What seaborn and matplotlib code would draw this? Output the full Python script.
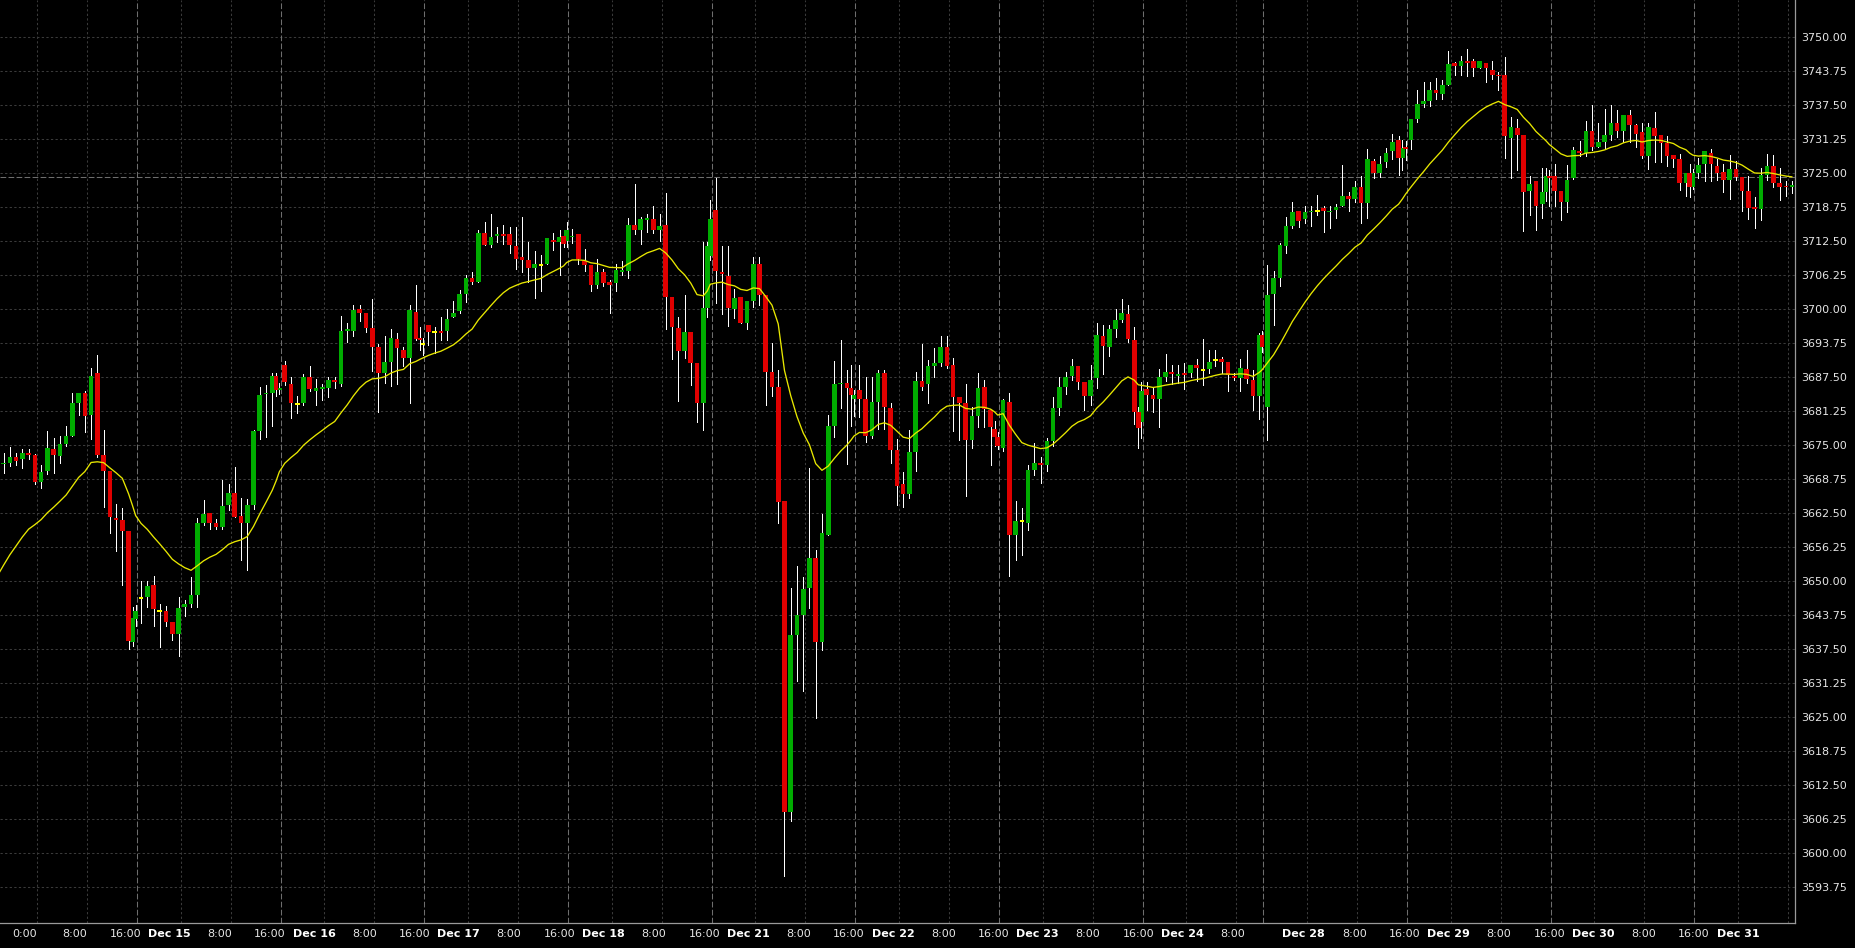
import numpy as np
import pandas as pd
import matplotlib
matplotlib.use("Agg")
import matplotlib.pyplot as plt
import seaborn as sns

# ---------------- data: hourly candles (open, high, low, close) ----------------
session_names = ["Dec 14", "Dec 15", "Dec 16", "Dec 17", "Dec 18", "Dec 21", "Dec 22",
                 "Dec 23", "Dec 24", "Dec 28", "Dec 29", "Dec 30", "Dec 31"]
session_hours = [23, 23, 23, 23, 23, 23, 23, 23, 19.3, 23, 23, 23, 23]
session_first_bar = [1, 0, 0, 0, 0, 0, 0, 0, 0, 0, 0, 0, 0]
session_short_bars = [2, 2, 2, 2, 2, 2, 2, 2, 1, 2, 2, 2, 0]

dec14 = [(3671.5, 3673.5, 3670.0, 3671.8), (3671.8, 3674.6, 3671.2, 3672.9), (3672.9, 3673.6, 3671.4, 3672.2),
         (3672.4, 3674.3, 3670.9, 3673.6), (3673.5, 3674.3, 3672.4, 3673.2), (3673.2, 3673.4, 3667.9, 3668.3),
         (3668.3, 3671.3, 3667.2, 3670.1), (3670.3, 3677.6, 3669.7, 3674.5), (3674.3, 3676.3, 3670.0, 3673.3),
         (3673.1, 3676.7, 3671.7, 3675.2), (3675.3, 3678.6, 3674.8, 3676.7), (3676.7, 3684.7, 3676.7, 3682.7),
         (3682.8, 3684.6, 3680.5, 3684.6), (3684.6, 3684.9, 3677.5, 3680.4), (3680.6, 3689.2, 3676.2, 3687.7),
         (3688.2, 3691.6, 3672.9, 3673.2), (3673.2, 3677.8, 3663.7, 3670.3), (3670.3, 3670.3, 3658.8, 3661.8),
         (3661.6, 3664.3, 3655.5, 3661.3), (3661.3, 3663.4, 3649.3, 3659.3), (3659.3, 3659.3, 3637.5, 3639.1),
         (3638.9, 3645.3, 3638.1, 3643.3), (3643.0, 3645.7, 3641.8, 3644.6)]
dec15 = [(3647.0, 3650.1, 3642.3, 3647.0), (3647.2, 3650.1, 3645.3, 3649.1), (3649.3, 3651.0, 3641.8, 3644.9),
         (3644.6, 3645.9, 3638.0, 3644.6), (3644.5, 3645.5, 3641.8, 3642.6), (3642.6, 3642.6, 3639.3, 3640.3),
         (3640.4, 3647.2, 3636.3, 3645.1), (3645.3, 3646.5, 3643.6, 3645.8), (3645.8, 3650.7, 3645.3, 3647.5),
         (3647.5, 3661.6, 3645.3, 3660.8), (3660.8, 3665.0, 3660.4, 3662.3), (3662.5, 3662.5, 3659.7, 3660.8),
         (3660.8, 3661.5, 3659.7, 3659.9), (3660.0, 3668.6, 3659.7, 3663.9), (3664.1, 3667.9, 3663.1, 3666.2),
         (3666.2, 3671.1, 3661.9, 3661.9), (3662.0, 3665.3, 3654.0, 3660.8), (3660.8, 3665.1, 3652.1, 3664.1),
         (3664.1, 3677.9, 3663.2, 3677.7), (3677.7, 3685.8, 3676.2, 3684.3), (3684.4, 3686.0, 3676.5, 3684.7),
         (3684.7, 3688.2, 3678.5, 3687.7), (3687.7, 3688.2, 3684.0, 3685.2), (3685.2, 3686.5, 3684.5, 3685.6)]
dec16 = [(3689.8, 3690.5, 3686.0, 3686.7), (3686.3, 3687.6, 3680.0, 3682.8), (3682.6, 3684.1, 3681.0, 3682.6),
         (3682.8, 3688.1, 3682.4, 3687.5), (3687.5, 3689.6, 3684.9, 3685.4), (3685.0, 3687.1, 3682.4, 3685.5),
         (3685.4, 3686.3, 3683.3, 3685.7), (3685.6, 3687.6, 3683.8, 3687.0), (3687.0, 3687.6, 3685.5, 3686.6),
         (3686.3, 3698.8, 3685.9, 3696.0), (3696.0, 3697.4, 3693.9, 3696.4), (3696.1, 3700.8, 3695.1, 3699.9),
         (3700.1, 3700.8, 3697.9, 3699.3), (3699.3, 3699.3, 3695.9, 3696.6), (3696.6, 3701.9, 3688.6, 3693.1),
         (3693.1, 3693.7, 3681.2, 3688.2), (3688.2, 3695.1, 3686.4, 3690.3), (3690.3, 3696.4, 3685.9, 3694.8),
         (3694.5, 3695.7, 3686.2, 3692.9), (3692.5, 3693.1, 3689.5, 3691.1), (3691.1, 3700.7, 3682.8, 3699.9),
         (3699.5, 3704.5, 3694.4, 3694.5), (3694.7, 3696.8, 3692.5, 3694.4), (3693.6, 3694.7, 3691.6, 3693.6)]
dec17 = [(3697.1, 3697.1, 3693.4, 3695.9), (3695.9, 3696.8, 3692.0, 3695.9), (3696.0, 3698.6, 3694.4, 3695.7),
         (3696.1, 3700.0, 3694.4, 3698.2), (3698.6, 3701.5, 3698.6, 3699.3), (3699.6, 3703.5, 3699.3, 3702.9),
         (3702.9, 3706.3, 3701.4, 3705.7), (3705.7, 3706.9, 3704.6, 3705.1), (3705.1, 3714.6, 3705.1, 3714.0),
         (3714.0, 3716.1, 3711.9, 3711.9), (3711.9, 3717.5, 3711.4, 3713.2), (3713.4, 3715.2, 3712.4, 3713.9),
         (3713.9, 3715.5, 3712.0, 3713.5), (3713.8, 3715.2, 3710.4, 3711.8), (3711.6, 3715.2, 3707.4, 3709.2),
         (3709.6, 3717.0, 3706.9, 3709.1), (3709.1, 3712.4, 3705.1, 3707.6), (3707.6, 3710.8, 3702.0, 3708.3),
         (3708.2, 3710.0, 3703.4, 3708.2), (3708.3, 3713.1, 3708.3, 3713.1), (3712.7, 3714.0, 3710.9, 3712.4),
         (3712.4, 3714.5, 3706.3, 3713.2), (3713.4, 3714.0, 3711.5, 3712.0), (3712.6, 3716.1, 3711.5, 3714.6)]
dec18 = [(3713.2, 3714.7, 3712.2, 3713.5), (3713.8, 3713.8, 3708.4, 3709.2), (3708.9, 3711.0, 3707.1, 3708.1),
         (3708.1, 3708.1, 3703.4, 3704.4), (3704.4, 3709.2, 3704.0, 3706.9), (3706.9, 3707.5, 3704.3, 3704.8),
         (3705.0, 3705.4, 3699.3, 3704.5), (3704.8, 3708.3, 3703.4, 3707.2), (3706.9, 3708.9, 3706.3, 3707.3),
         (3707.1, 3716.8, 3705.7, 3715.5), (3715.5, 3723.0, 3713.8, 3714.6), (3714.6, 3717.0, 3712.0, 3716.6),
         (3716.4, 3717.6, 3714.3, 3716.7), (3716.6, 3719.0, 3714.0, 3714.5), (3714.6, 3717.5, 3712.6, 3715.3),
         (3715.5, 3721.4, 3696.3, 3702.3), (3702.3, 3702.3, 3690.8, 3696.8), (3696.6, 3698.6, 3683.2, 3692.3),
         (3692.3, 3702.6, 3691.0, 3695.8), (3695.8, 3695.8, 3686.1, 3690.2), (3690.2, 3690.2, 3679.2, 3682.7),
         (3682.7, 3712.4, 3677.8, 3700.3), (3700.3, 3712.4, 3698.6, 3711.6), (3709.8, 3720.1, 3709.1, 3716.6)]
dec21 = [(3718.3, 3724.1, 3701.1, 3707.1), (3706.9, 3711.6, 3699.1, 3706.4), (3706.1, 3711.6, 3697.0, 3700.3),
         (3700.1, 3703.7, 3698.4, 3702.1), (3702.2, 3702.2, 3697.4, 3697.5), (3697.5, 3701.5, 3696.4, 3701.5),
         (3701.6, 3709.6, 3700.5, 3708.4), (3708.4, 3709.6, 3700.8, 3702.6), (3702.6, 3702.6, 3682.5, 3688.5),
         (3688.5, 3693.8, 3684.0, 3685.7), (3685.7, 3688.8, 3660.8, 3664.5), (3664.8, 3664.8, 3595.8, 3607.6),
         (3607.6, 3648.7, 3605.9, 3640.1), (3640.1, 3652.8, 3631.7, 3643.8), (3643.8, 3650.8, 3629.9, 3648.6),
         (3648.7, 3670.8, 3645.1, 3654.3), (3654.3, 3655.7, 3624.9, 3638.8), (3638.8, 3662.4, 3637.4, 3658.8),
         (3658.6, 3680.5, 3658.6, 3678.5), (3678.5, 3690.5, 3676.5, 3686.3), (3686.2, 3694.3, 3681.9, 3686.5),
         (3686.5, 3688.9, 3671.6, 3685.6), (3685.6, 3689.8, 3678.6, 3684.2), (3683.6, 3685.1, 3680.4, 3684.2)]
dec22 = [(3685.1, 3689.8, 3680.2, 3683.6), (3683.5, 3687.6, 3675.6, 3676.8), (3676.8, 3687.6, 3676.4, 3682.9),
         (3682.9, 3688.9, 3678.0, 3688.2), (3688.2, 3688.9, 3678.0, 3682.1), (3681.9, 3682.8, 3671.8, 3674.2),
         (3674.2, 3676.1, 3664.1, 3667.5), (3667.9, 3670.1, 3663.7, 3666.0), (3666.0, 3677.8, 3665.4, 3673.7),
         (3673.7, 3688.5, 3670.2, 3686.8), (3686.8, 3693.6, 3685.2, 3685.7), (3686.2, 3690.6, 3682.8, 3689.6),
         (3689.6, 3692.8, 3687.6, 3690.1), (3690.2, 3695.1, 3689.5, 3693.0), (3693.0, 3695.1, 3689.3, 3689.6),
         (3689.8, 3691.0, 3677.7, 3683.9), (3683.9, 3683.9, 3675.9, 3682.8), (3682.8, 3686.3, 3665.7, 3675.9),
         (3675.9, 3682.1, 3674.5, 3680.4), (3680.4, 3688.3, 3678.3, 3685.6), (3685.7, 3687.0, 3678.4, 3681.6),
         (3681.4, 3681.4, 3671.4, 3678.4), (3678.0, 3679.4, 3674.8, 3676.5), (3676.5, 3677.5, 3674.3, 3674.9)]
dec23 = [(3674.5, 3683.5, 3674.0, 3683.3), (3683.0, 3684.7, 3650.9, 3658.5), (3658.5, 3664.8, 3653.9, 3661.1),
         (3661.0, 3663.5, 3654.8, 3661.0), (3660.8, 3671.4, 3659.4, 3670.5), (3670.5, 3675.5, 3669.5, 3671.8),
         (3671.8, 3672.9, 3668.1, 3671.4), (3671.4, 3676.3, 3670.3, 3675.8), (3675.8, 3683.8, 3674.8, 3681.9),
         (3681.9, 3687.6, 3680.6, 3685.8), (3685.8, 3688.5, 3684.4, 3687.6), (3687.7, 3690.9, 3687.0, 3689.6),
         (3689.6, 3689.6, 3685.4, 3686.7), (3686.7, 3686.7, 3681.4, 3684.1), (3684.1, 3689.8, 3682.4, 3687.0),
         (3687.4, 3697.4, 3685.6, 3695.3), (3695.1, 3697.1, 3688.1, 3693.3), (3693.1, 3697.1, 3691.4, 3696.3),
         (3696.4, 3700.0, 3695.0, 3698.0), (3698.0, 3701.9, 3697.7, 3699.4), (3699.1, 3700.8, 3693.9, 3694.6),
         (3694.4, 3696.7, 3679.0, 3681.2), (3681.2, 3682.1, 3674.5, 3678.1), (3679.2, 3686.7, 3676.4, 3685.0)]
dec24 = [(3685.3, 3686.7, 3681.4, 3684.3), (3684.3, 3685.8, 3681.2, 3683.5), (3683.5, 3689.0, 3678.4, 3687.5),
         (3687.5, 3691.8, 3686.8, 3688.4), (3688.5, 3689.8, 3686.3, 3688.1), (3687.8, 3689.8, 3686.4, 3688.1),
         (3688.2, 3690.2, 3685.4, 3687.9), (3688.2, 3689.8, 3687.5, 3689.8), (3689.8, 3690.9, 3686.9, 3689.3),
         (3688.8, 3694.5, 3686.1, 3688.8), (3689.0, 3692.5, 3688.2, 3690.4), (3690.7, 3692.5, 3689.6, 3690.7),
         (3690.8, 3691.2, 3688.2, 3690.4), (3690.4, 3690.4, 3684.9, 3688.0), (3687.7, 3688.2, 3687.0, 3687.4),
         (3687.4, 3690.8, 3684.9, 3689.2), (3689.0, 3692.5, 3686.5, 3687.1), (3687.0, 3688.8, 3681.4, 3684.1),
         (3684.1, 3695.6, 3679.8, 3695.3), (3695.3, 3696.0, 3692.2, 3693.0)]
dec28 = [(3682.1, 3708.1, 3676.0, 3702.6), (3702.8, 3707.0, 3697.1, 3705.8), (3705.8, 3712.1, 3704.3, 3711.8),
         (3711.7, 3717.0, 3710.4, 3715.3), (3715.3, 3719.7, 3714.9, 3717.9), (3718.1, 3718.1, 3715.2, 3716.3),
         (3716.6, 3719.0, 3715.8, 3717.9), (3717.8, 3719.0, 3715.3, 3718.1), (3718.1, 3721.0, 3717.3, 3718.1),
         (3718.6, 3719.0, 3714.3, 3718.0), (3717.8, 3719.0, 3715.0, 3718.1), (3718.3, 3719.3, 3716.7, 3718.8),
         (3718.9, 3726.5, 3718.9, 3720.8), (3720.8, 3721.6, 3718.1, 3720.3), (3720.3, 3723.5, 3719.7, 3722.4),
         (3722.4, 3724.5, 3715.9, 3719.6), (3719.6, 3729.5, 3716.8, 3727.6), (3727.3, 3727.7, 3724.1, 3725.1),
         (3725.0, 3728.1, 3724.4, 3726.8), (3727.0, 3729.6, 3726.2, 3728.7), (3729.1, 3732.2, 3727.7, 3730.8),
         (3731.1, 3731.9, 3724.7, 3727.9), (3727.9, 3731.1, 3725.6, 3729.6), (3729.9, 3731.0, 3727.5, 3729.5)]
dec29 = [(3731.1, 3735.0, 3729.5, 3735.0), (3735.0, 3740.4, 3734.5, 3737.7), (3737.7, 3741.7, 3737.1, 3738.2),
         (3738.3, 3741.7, 3737.4, 3740.4), (3740.3, 3742.5, 3738.7, 3739.8), (3739.6, 3742.1, 3738.7, 3741.2),
         (3741.2, 3747.4, 3741.2, 3745.1), (3745.2, 3745.4, 3743.1, 3744.8), (3744.8, 3746.6, 3743.1, 3745.6),
         (3745.6, 3747.8, 3742.9, 3745.3), (3745.6, 3746.0, 3742.8, 3744.4), (3744.4, 3745.7, 3744.4, 3745.6),
         (3745.3, 3745.3, 3741.7, 3744.4), (3744.0, 3745.7, 3742.3, 3743.1), (3743.1, 3743.7, 3740.3, 3742.8),
         (3743.1, 3746.3, 3727.9, 3731.9), (3731.5, 3735.3, 3724.2, 3733.5), (3733.3, 3734.9, 3725.6, 3732.1),
         (3732.0, 3732.0, 3714.4, 3721.6), (3721.7, 3724.5, 3717.3, 3723.1), (3723.6, 3723.6, 3714.6, 3719.0),
         (3719.4, 3726.0, 3716.7, 3721.5), (3721.5, 3725.9, 3720.0, 3724.5), (3724.5, 3725.6, 3718.9, 3724.2)]
dec30 = [(3724.5, 3726.8, 3718.9, 3721.8), (3721.8, 3721.8, 3716.4, 3719.8), (3719.8, 3726.5, 3717.9, 3723.8),
         (3724.2, 3729.9, 3724.0, 3729.3), (3729.1, 3731.0, 3728.2, 3728.8), (3728.8, 3734.7, 3728.2, 3732.8),
         (3732.8, 3737.6, 3729.3, 3729.9), (3729.9, 3734.2, 3729.9, 3730.8), (3730.8, 3736.8, 3729.6, 3732.0),
         (3732.0, 3737.5, 3731.1, 3734.3), (3734.3, 3736.6, 3731.7, 3732.8), (3732.8, 3735.7, 3730.8, 3735.7),
         (3735.7, 3736.6, 3730.8, 3733.9), (3733.9, 3734.1, 3729.9, 3732.2), (3732.6, 3734.2, 3727.8, 3728.1),
         (3728.1, 3734.3, 3725.7, 3733.6), (3733.4, 3736.3, 3727.1, 3731.9), (3732.0, 3732.0, 3727.0, 3730.5),
         (3730.5, 3731.9, 3726.4, 3728.1), (3728.4, 3728.4, 3726.2, 3727.7), (3727.6, 3728.5, 3721.9, 3723.3),
         (3723.3, 3725.0, 3720.8, 3725.0), (3725.0, 3726.8, 3720.7, 3722.5), (3722.5, 3725.7, 3722.2, 3725.0)]
dec31 = [(3725.1, 3727.8, 3724.2, 3726.5), (3726.7, 3729.1, 3723.5, 3729.1), (3728.7, 3729.5, 3723.5, 3726.7),
         (3726.4, 3727.6, 3723.8, 3725.1), (3725.2, 3726.8, 3721.5, 3723.8), (3723.8, 3728.4, 3720.2, 3725.7),
         (3725.7, 3727.3, 3723.8, 3724.4), (3724.4, 3724.4, 3718.0, 3721.8), (3721.8, 3724.5, 3716.6, 3718.7),
         (3718.8, 3720.7, 3715.0, 3718.4), (3718.4, 3725.9, 3716.5, 3724.6), (3724.6, 3728.6, 3723.8, 3726.4),
         (3726.4, 3728.4, 3722.4, 3723.2), (3723.2, 3725.9, 3720.1, 3722.4), (3722.6, 3723.5, 3720.8, 3722.4),
         (3722.4, 3723.5, 3721.3, 3722.9)]
session_bars = [dec14, dec15, dec16, dec17, dec18, dec21, dec22, dec23, dec24, dec28, dec29, dec30, dec31]

ema_seed = 3651.0      # value of the yellow average just before the first visible candle
ema_span = 20
price_line = 3724.3    # dashed horizontal line
price_ticks = np.arange(3593.75, 3750.01, 6.25)

# ---------------- build the bar-time axis (hours, with session gaps removed) ----------------
xs, rows = [], []
session_start = np.concatenate([[0.0], np.cumsum(session_hours)[:-1]])
for s0, hrs, k0, nshort, bars in zip(session_start, session_hours, session_first_bar,
                                     session_short_bars, session_bars):
    nreg = len(bars) - nshort
    pos = [s0 + 0.65 + k for k in range(k0, k0 + nreg)]
    pos += [s0 + hrs - e for e in [0.72, 0.22][2 - nshort:]] if nshort else []
    xs += pos
    rows += bars
df = pd.DataFrame(rows, columns=["open", "high", "low", "close"])
df["x"] = xs
df["high"] = df[["open", "high", "close"]].max(axis=1)
df["low"] = df[["open", "low", "close"]].min(axis=1)

ema = pd.Series([ema_seed] + df["close"].tolist()).ewm(span=ema_span, adjust=False).mean()
ema_x = [session_start[0] + 0.65] + df["x"].tolist()
ema_df = pd.DataFrame({"x": ema_x, "ema": ema.values})

# ---------------- styling ----------------
sns.set_theme(style="dark", rc={"axes.facecolor": "black", "figure.facecolor": "black",
                                "savefig.facecolor": "black", "axes.grid": False})
plt.rcParams["font.family"] = ["DejaVu Sans"]

W, H = 1855, 948
axis_bottom_px = 923
fig = plt.figure(figsize=(W / 100, H / 100), dpi=100)
ax = fig.add_axes([0, (H - axis_bottom_px) / H, 1795 / W, axis_bottom_px / H])
ax.set_facecolor("black")

px_per_point = 5.44
xmin, xmax = 1.068, 288.42
ymax = 3750 + 37.3 / px_per_point
ymin = 3750 - (axis_bottom_px - 37.3) / px_per_point
ax.set_xlim(xmin, xmax)
ax.set_ylim(ymin, ymax)

grid_col = "#3a3a3a"
sep_col = "#6e6e6e"
for p in price_ticks:
    ax.axhline(p, color=grid_col, lw=0.75, ls=(0, (2.2, 2.2)), zorder=0)

tick_pos, tick_lab, tick_bold = [], [], []
for i, (name, s0, hrs) in enumerate(zip(session_names, session_start, session_hours)):
    lines = [(s0 + 7, name if i > 0 else "0:00", i > 0), (s0 + 15, "8:00", False)]
    for u, lab, bold in lines:
        if u < xmax:
            ax.axvline(u, color=grid_col, lw=0.75, ls=(0, (2.2, 2.2)), zorder=0)
            if u < xmax - 3:
                tick_pos.append(u - 2.05 * (1 - u / 280.0))
                tick_lab.append(lab)
                tick_bold.append(bold)
    if i > 0:
        ax.axvline(s0, color=sep_col, lw=0.75, ls=(0, (5.5, 2.2)), zorder=0)
    if hrs == 23 and s0 + 23 < xmax:
        u = s0 + 23
        tick_pos.append(u - 2.05 * (1 - u / 280.0))
        tick_lab.append("16:00")
        tick_bold.append(False)

ax.axhline(price_line, color=sep_col, lw=0.75, ls=(0, (5.5, 2.2)), zorder=1)

# ---------------- candles ----------------
up_col, dn_col, doji_col = "#00ac00", "#e00000", "#ffff00"
body_w = 0.74
ax.vlines(df["x"], df["low"], df["high"], colors="white", linewidth=0.5,
          antialiased=False, zorder=2)
up = df[df["close"] > df["open"]]
dn = df[df["close"] < df["open"]]
dj = df[df["close"] == df["open"]]
ax.bar(up["x"], np.maximum(up["close"] - up["open"], 0.22), bottom=up["open"],
       width=body_w, color=up_col, linewidth=0, zorder=3)
ax.bar(dn["x"], np.maximum(dn["open"] - dn["close"], 0.22), bottom=dn["close"],
       width=body_w, color=dn_col, linewidth=0, zorder=3)
ax.bar(dj["x"], 0.36, bottom=dj["close"] - 0.18, width=body_w, color=doji_col,
       linewidth=0, zorder=3)

sns.lineplot(data=ema_df, x="x", y="ema", ax=ax, color="#e8e800", linewidth=0.95,
             estimator=None, sort=False, zorder=4)

# ---------------- axes ----------------
ax.set_xlabel("")
ax.set_ylabel("")
for side in ["top", "left"]:
    ax.spines[side].set_visible(False)
for side in ["right", "bottom"]:
    ax.spines[side].set_visible(True)
    ax.spines[side].set_color("#9a9a9a")
    ax.spines[side].set_linewidth(0.9)

ax.yaxis.tick_right()
ax.set_yticks(price_ticks)
ax.set_yticklabels([f"{p:.2f}" for p in price_ticks])
ax.tick_params(axis="y", length=0, pad=4.8, labelsize=8, labelcolor="#e6e6e6")
ax.set_xticks(tick_pos)
ax.set_xticklabels(tick_lab)
ax.tick_params(axis="x", length=0, pad=4.0, labelsize=8, labelcolor="#e6e6e6")
for t, b in zip(ax.get_xticklabels(), tick_bold):
    if b:
        t.set_fontweight("bold")
        t.set_color("white")

fig.savefig("out.png", dpi=100, facecolor="black")
